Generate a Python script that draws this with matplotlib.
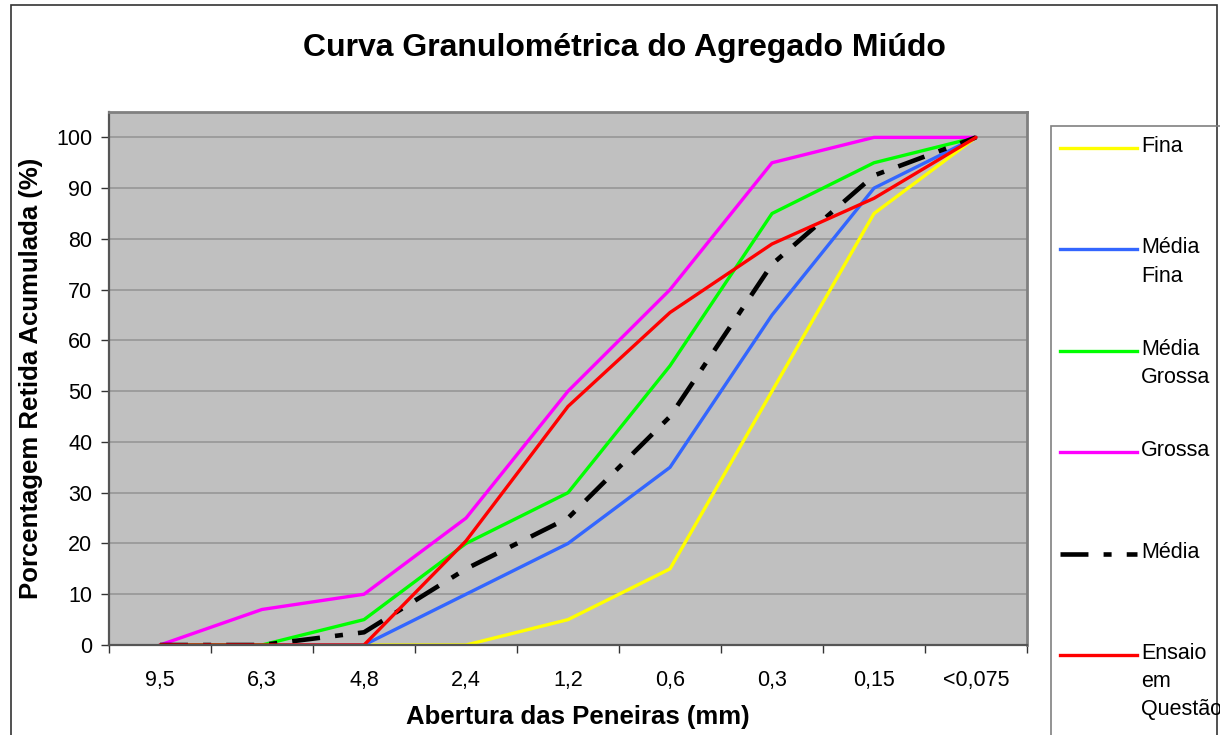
import matplotlib
matplotlib.use("Agg")
import matplotlib.pyplot as plt
import numpy as np
from matplotlib.lines import Line2D
from matplotlib.patches import Rectangle

plt.rcParams['font.family'] = ['Liberation Sans', 'DejaVu Sans']

# sieve openings (mm) and cumulative retained percentage per grading zone
peneiras = ['9,5', '6,3', '4,8', '2,4', '1,2', '0,6', '0,3', '0,15', '<0,075']
fina = [0, 0, 0, 0, 5, 15, 50, 85, 100]
media_fina = [0, 0, 0, 10, 20, 35, 65, 90, 100]
media_grossa = [0, 0, 5, 20, 30, 55, 85, 95, 100]
grossa = [0, 7, 10, 25, 50, 70, 95, 100, 100]
media = [0, 0, 2.5, 15, 25, 45, 75, 92.5, 100]
ensaio = [0, 0, 0, 20.5, 47, 65.5, 79, 88, 100]

nomes = ['Fina', 'Média\nFina', 'Média\nGrossa', 'Grossa', 'Média', 'Ensaio\nem\nQuestão']
series = [fina, media_fina, media_grossa, grossa, media, ensaio]
cores = ['#FFFF00', '#3366FF', '#00FF00', '#FF00FF', '#000000', '#FF0000']
traco = (6.1, 3.3, 1.75, 3.3)  # long dash / dot pattern for the mean curve

W, H = 1220, 735
fig = plt.figure(figsize=(W / 100, H / 100), dpi=100)
ax = fig.add_axes([109 / W, 1 - 645 / H, (1027 - 109) / W, (645 - 112) / H])
ax.set_facecolor('#C0C0C0')

x = np.arange(len(peneiras))
linhas = []
for nome, ys, cor in zip(nomes, series, cores):
    if cor == '#000000':
        ln, = ax.plot(x, ys, color=cor, lw=3.3, dashes=traco,
                      dash_capstyle='butt', solid_joinstyle='round')
    else:
        ln, = ax.plot(x, ys, color=cor, lw=2.4, solid_capstyle='round')
    linhas.append(ln)

ax.set_xlim(-0.5, len(peneiras) - 0.5)
ax.set_ylim(0, 105)
ax.set_yticks(np.arange(0, 101, 10))
ax.yaxis.grid(True, color='#9A9A9A', lw=1.3)
ax.set_axisbelow(True)
ax.set_xticks(x)
ax.set_xticklabels(peneiras)
ax.set_xticks(np.arange(-0.5, len(peneiras), 1), minor=True)
ax.tick_params(axis='x', which='major', length=0, pad=18, labelsize=15.5)
ax.tick_params(axis='x', which='minor', length=6, width=1, color='#333333', direction='out')
ax.tick_params(axis='y', length=6, width=1, color='#333333', labelsize=15.5, pad=6)
for s in ['top', 'right']:
    ax.spines[s].set_color('#808080')
    ax.spines[s].set_linewidth(2)
for s in ['left', 'bottom']:
    ax.spines[s].set_color('#555555')
    ax.spines[s].set_linewidth(1.6)

ax.set_xlabel('Abertura das Peneiras (mm)', fontsize=18.5, fontweight='bold')
ax.xaxis.set_label_coords(0.511, -0.112)
ax.set_ylabel('Porcentagem Retida Acumulada (%)', fontsize=18.5, fontweight='bold')
ax.yaxis.set_label_coords(-0.072, 0.5)

fig.text(624 / W, 1 - 48 / H, 'Curva Granulométrica do Agregado Miúdo',
         fontsize=23, fontweight='bold', ha='center', va='center')

# chart frame
fig.patches.append(Rectangle((11 / W, -0.1), (1217 - 11) / W, 1.1 - 5 / H,
                             transform=fig.transFigure, fill=False,
                             edgecolor='#333333', lw=1.2))

# legend box, drawn by hand so the line sits on the first text line
fig.patches.append(Rectangle((1051 / W, -0.1), 0.3, 1.1 - 126 / H,
                             transform=fig.transFigure, fill=False,
                             edgecolor='#808080', lw=1.2))
for i, (nome, ln) in enumerate(zip(nomes, linhas)):
    yy = 1 - (148 + i * 101.4) / H
    ll = Line2D([1060 / W, 1137 / W], [yy, yy], transform=fig.transFigure,
                color=ln.get_color(), lw=ln.get_linewidth(), dash_capstyle='butt')
    if ln.get_color() == '#000000':
        ll.set_dashes(traco)
    fig.lines.append(ll)
    fig.text(1141 / W, yy + 12 / H, nome, fontsize=15.5, va='top', ha='left',
             linespacing=1.45)

fig.savefig('out.png', dpi=100)
